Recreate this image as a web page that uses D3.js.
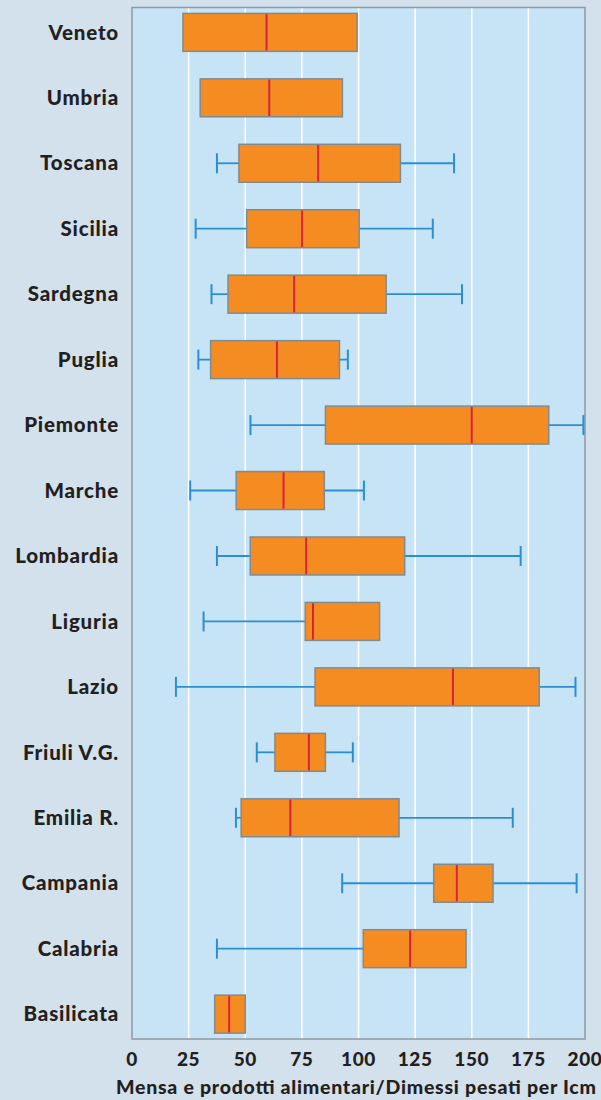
<!DOCTYPE html>
<html>
<head>
<meta charset="utf-8">
<script src="https://cdn.jsdelivr.net/npm/d3@7"></script>
<style>
  body { margin: 0; background: #d3e1ec; }
  svg { display: block; }
  text { font-family: Lato, "Open Sans", sans-serif; fill: #231f20; }
</style>
</head>
<body>
<div id="vis"></div>
<script>
// regions, top to bottom
var regions = ["Veneto", "Umbria", "Toscana", "Sicilia", "Sardegna", "Puglia", "Piemonte", "Marche",
  "Lombardia", "Liguria", "Lazio", "Friuli V.G.", "Emilia R.", "Campania", "Calabria", "Basilicata"];
var minVals = [22.5, 30.1, 37.5, 28.1, 35.1, 29.3, 52.3, 25.7, 37.5, 31.6, 19.4, 55.1, 45.9, 92.8, 37.5, 36.5];
var q1Vals  = [22.5, 30.1, 47.2, 50.6, 42.4, 34.7, 85.4, 46.0, 52.2, 76.5, 80.8, 63.1, 48.2, 133.2, 102.1, 36.5];
var medVals = [59.4, 60.6, 82.2, 75.1, 71.6, 64.0, 150.0, 66.9, 76.9, 79.9, 141.7, 78.1, 69.9, 143.4, 122.8, 42.9];
var q3Vals  = [99.4, 92.9, 118.5, 100.3, 112.2, 91.6, 184.0, 84.9, 120.4, 109.3, 179.8, 85.4, 117.9, 159.4, 147.5, 50.0];
var maxVals = [99.4, 92.9, 142.2, 132.8, 145.7, 95.3, 199.3, 102.4, 171.6, 109.3, 195.8, 97.5, 168.1, 196.3, 147.5, 50.0];
var ticks = [0, 25, 50, 75, 100, 125, 150, 175, 200];
var axisTitle = "Mensa e prodotti alimentari/Dimessi pesati per Icm";

(function() {
var W = 601, H = 1100;
var pLeft = 132, pRight = 585, pTop = 7.5, pBottom = 1039;

var rows = regions.map(function(r, i) {
  return {name: r, min: minVals[i], q1: q1Vals[i], med: medVals[i], q3: q3Vals[i], max: maxVals[i]};
});

var svg = d3.select("#vis").append("svg").attr("width", W).attr("height", H);

var x = d3.scaleLinear().domain([0, 200]).range([pLeft, pRight]);
var y = d3.scaleBand().domain(regions).range([pTop, pBottom]).paddingInner(0.42).paddingOuter(0.09);

svg.append("rect").attr("x", pLeft).attr("y", pTop).attr("width", pRight - pLeft).attr("height", pBottom - pTop)
  .attr("fill", "#c7e4f6");

svg.selectAll("line.grid").data(ticks.slice(1, -1)).enter().append("line")
  .attr("class", "grid")
  .attr("x1", function(d) { return x(d); }).attr("x2", function(d) { return x(d); })
  .attr("y1", pTop).attr("y2", pBottom)
  .attr("stroke", "#ffffff").attr("stroke-width", 1.5);

svg.append("rect").attr("x", pLeft).attr("y", pTop).attr("width", pRight - pLeft).attr("height", pBottom - pTop)
  .attr("fill", "none").attr("stroke", "#8c9aa3").attr("stroke-width", 1.5);

var g = svg.selectAll("g.box").data(rows).enter().append("g").attr("class", "box")
  .attr("transform", function(d) { return "translate(0," + y(d.name) + ")"; });
var bh = y.bandwidth(), mid = bh / 2;

// whiskers
var lo = g.filter(function(d) { return d.min < d.q1; });
lo.append("line")
  .attr("x1", function(d) { return x(d.min); }).attr("x2", function(d) { return x(d.q1); })
  .attr("y1", mid).attr("y2", mid).attr("stroke", "#2b8fcf").attr("stroke-width", 1.8);
lo.append("line")
  .attr("x1", function(d) { return x(d.min); }).attr("x2", function(d) { return x(d.min); })
  .attr("y1", mid - 10).attr("y2", mid + 10).attr("stroke", "#2b8fcf").attr("stroke-width", 2);
var hi = g.filter(function(d) { return d.max > d.q3; });
hi.append("line")
  .attr("x1", function(d) { return x(d.q3); }).attr("x2", function(d) { return x(d.max); })
  .attr("y1", mid).attr("y2", mid).attr("stroke", "#2b8fcf").attr("stroke-width", 1.8);
hi.append("line")
  .attr("x1", function(d) { return x(d.max); }).attr("x2", function(d) { return x(d.max); })
  .attr("y1", mid - 10).attr("y2", mid + 10).attr("stroke", "#2b8fcf").attr("stroke-width", 2);

g.append("rect")
  .attr("x", function(d) { return x(d.q1); }).attr("y", 0)
  .attr("width", function(d) { return x(d.q3) - x(d.q1); }).attr("height", bh)
  .attr("fill", "#f58c21").attr("stroke", "#7f8b93").attr("stroke-width", 1.5);

g.append("line")
  .attr("x1", function(d) { return x(d.med); }).attr("x2", function(d) { return x(d.med); })
  .attr("y1", 0.75).attr("y2", bh - 0.75)
  .attr("stroke", "#d6243f").attr("stroke-width", 2);

// category labels
svg.selectAll("text.cat").data(regions).enter().append("text").attr("class", "cat")
  .attr("x", 119).attr("y", function(d) { return y(d) + mid; })
  .attr("dy", "0.35em").attr("text-anchor", "end")
  .attr("font-size", 20.5).attr("font-weight", 900).attr("letter-spacing", 0.8)
  .text(function(d) { return d; });

// x tick labels
svg.selectAll("text.tick").data(ticks).enter().append("text").attr("class", "tick")
  .attr("x", function(d) { return x(d); }).attr("y", 1059).attr("dy", "0.35em")
  .attr("text-anchor", "middle").attr("font-size", 19).attr("font-weight", 900)
  .attr("letter-spacing", 0.6)
  .text(function(d) { return d; });

svg.append("text").attr("x", 356).attr("y", 1087).attr("dy", "0.35em")
  .attr("text-anchor", "middle").attr("font-size", 19.5).attr("font-weight", 900)
  .attr("textLength", 480).attr("lengthAdjust", "spacing")
  .text(axisTitle);
})();
</script>
</body>
</html>
